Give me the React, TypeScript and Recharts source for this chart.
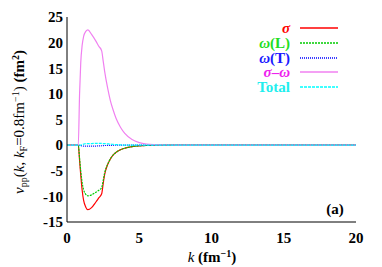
import React from "react";
import { LineChart, Line, XAxis, YAxis, Customized } from "recharts";

const kValues = [0, 0.5, 0.78, 0.87, 0.95, 1.05, 1.15, 1.3, 1.45, 1.7, 2.0, 2.2, 2.4, 2.5, 2.6, 2.8, 3.0, 3.2, 3.4, 3.7, 4.0, 4.5, 5.0, 5.5, 6, 7, 8, 10, 12, 15, 20];
const sigma = [0, 0, 0, -3, -5.8, -8.8, -10.8, -12.1, -12.6, -12.2, -11.1, -10.3, -9.5, -7.6, -5.8, -3.9, -2.7, -1.9, -1.4, -0.9, -0.6, -0.3, -0.15, -0.07, -0.03, 0, 0, 0, 0, 0, 0];
const omegaL = [0, 0, 0, -2.5, -5, -7.3, -8.7, -9.6, -9.9, -9.7, -9.2, -8.8, -8.3, -7.0, -5.5, -3.8, -2.7, -1.9, -1.4, -0.9, -0.6, -0.3, -0.15, -0.07, -0.03, 0, 0, 0, 0, 0, 0];
const omegaT = [0, 0, 0, -0.05, -0.1, -0.15, -0.18, -0.2, -0.2, -0.2, -0.18, -0.15, -0.12, -0.1, -0.08, -0.06, -0.04, -0.03, -0.02, -0.01, 0, 0, 0, 0, 0, 0, 0, 0, 0, 0, 0];
const sigmaOmega = [0, 0, 0, 10, 16, 19.5, 21.2, 22.2, 22.5, 21.6, 20.3, 19.3, 18.4, 16.5, 14.5, 11.3, 8.7, 6.8, 5.2, 3.5, 2.3, 1.1, 0.5, 0.2, 0.08, 0.02, 0, 0, 0, 0, 0];
const total = [0, 0, 0, 0, 0, 0.1, 0.2, 0.3, 0.3, 0.3, 0.35, 0.35, 0.35, 0.3, 0.3, 0.25, 0.2, 0.15, 0.1, 0.05, 0, 0, 0, 0, 0, 0, 0, 0, 0, 0, 0];

const xTicks = [0, 5, 10, 15, 20];
const yTicks = [-15, -10, -5, 0, 5, 10, 15, 20, 25];

const data = kValues.map((k, i) => ({
  k,
  sigma: sigma[i],
  omegaL: omegaL[i],
  omegaT: omegaT[i],
  sigmaOmega: sigmaOmega[i],
  total: total[i],
}));

const FONT = "Liberation Serif";

const series = [
  { key: "sigma", color: "#ff0000", text: "#ff0000", dash: undefined, label: <i>σ</i> },
  { key: "omegaL", color: "#00cc00", text: "#22dd22", dash: "2 1", label: <><i>ω</i>(L)</> },
  { key: "omegaT", color: "#0000ff", text: "#1a1aff", dash: "1 1", label: <><i>ω</i>(T)</> },
  { key: "sigmaOmega", color: "#f080f0", text: "#ee22ee", dash: undefined, label: <><i>σ</i>–<i>ω</i></> },
  { key: "total", color: "#00ffff", text: "#22eeee", dash: "3 1", label: <>Total</> },
];

function LegendBox() {
  return (
    <div style={{ position: "absolute", left: 180, top: 21, width: 170, fontFamily: FONT, fontWeight: "bold", fontSize: 15 }}>
      {series.map((s) => (
        <div key={s.key} style={{ display: "flex", alignItems: "center", height: 14.7 }}>
          <div style={{ width: 110, textAlign: "right", color: s.text, lineHeight: "14px" }}>{s.label}</div>
          <svg width={48} height={6} style={{ marginLeft: 10 }}>
            <line x1={0} x2={38} y1={3} y2={3} stroke={s.color} strokeWidth={1.5} strokeDasharray={s.dash} />
          </svg>
        </div>
      ))}
    </div>
  );
}

const YLabel = () => (
  <text transform="rotate(-90)" x={-122} y={24} textAnchor="middle" fontFamily={FONT} fontSize={15} fill="#000">
    <tspan fontStyle="italic">v</tspan>
    <tspan fontSize={10} dy={3}>pp</tspan>
    <tspan dy={-3}>(</tspan>
    <tspan fontStyle="italic">k</tspan>
    <tspan>, </tspan>
    <tspan fontStyle="italic">k</tspan>
    <tspan fontSize={10} dy={3}>F</tspan>
    <tspan dy={-3}>=0.8fm</tspan>
    <tspan fontSize={10} dy={-5}>−1</tspan>
    <tspan dy={5}>) </tspan>
    <tspan fontWeight="bold">(fm</tspan>
    <tspan fontWeight="bold" fontSize={10} dy={-5}>2</tspan>
    <tspan fontWeight="bold" dy={5}>)</tspan>
  </text>
);

const XLabel = () => (
  <text x={212} y={262} textAnchor="middle" fontFamily={FONT} fontSize={15} fill="#000">
    <tspan fontStyle="italic">k</tspan>
    <tspan fontWeight="bold"> (fm</tspan>
    <tspan fontWeight="bold" fontSize={10} dy={-5}>−1</tspan>
    <tspan fontWeight="bold" dy={5}>)</tspan>
  </text>
);

const PanelTag = () => (
  <text x={335} y={214} textAnchor="middle" fontFamily={FONT} fontSize={15} fontWeight="bold" fill="#000">
    (a)
  </text>
);

const tickStyle = { fontFamily: FONT, fontSize: 15, fontWeight: "bold", fill: "#000" };

export default function App() {
  return (
    <div style={{ position: "absolute", left: 0, top: 0, width: 382, height: 267, background: "#fff" }}>
      <LineChart width={382} height={267} data={data} margin={{ top: 17, right: 26, bottom: 0, left: 0 }}>
        {/* inward tick marks: mirrored axes with no labels */}
        <XAxis xAxisId="bm" orientation="bottom" mirror dataKey="k" type="number" domain={[0, 20]} ticks={xTicks} height={0} tickSize={4} tick={false} stroke="#000" />
        <XAxis xAxisId="tm" orientation="top" mirror dataKey="k" type="number" domain={[0, 20]} ticks={xTicks} height={0} tickSize={4} tick={false} stroke="#000" />
        <YAxis yAxisId="lm" orientation="left" mirror type="number" domain={[-15, 25]} ticks={yTicks} width={0} tickSize={4} tick={false} stroke="#000" />
        <YAxis yAxisId="rm" orientation="right" mirror type="number" domain={[-15, 25]} ticks={yTicks} width={0} tickSize={4} tick={false} stroke="#000" />
        <XAxis
          xAxisId="b"
          dataKey="k"
          type="number"
          domain={[0, 20]}
          ticks={xTicks}
          height={45}
          tickSize={0}
          tickMargin={10}
          tickLine={false}
          tick={tickStyle}
          stroke="#000"
          interval={0}
        />
        <YAxis
          yAxisId="l"
          type="number"
          domain={[-15, 25]}
          ticks={yTicks}
          width={67}
          tickSize={0}
          tickMargin={4}
          tickLine={false}
          tick={tickStyle}
          stroke="#000"
          interval={0}
          allowDataOverflow
        />
        {series.map((s) => (
          <Line
            key={s.key}
            xAxisId="b"
            yAxisId="l"
            dataKey={s.key}
            type="monotone"
            stroke={s.color}
            strokeWidth={1.2}
            strokeDasharray={s.dash}
            dot={false}
            isAnimationActive={false}
          />
        ))}
        <Customized component={YLabel} />
        <Customized component={XLabel} />
        <Customized component={PanelTag} />
      </LineChart>
      <LegendBox />
    </div>
  );
}
